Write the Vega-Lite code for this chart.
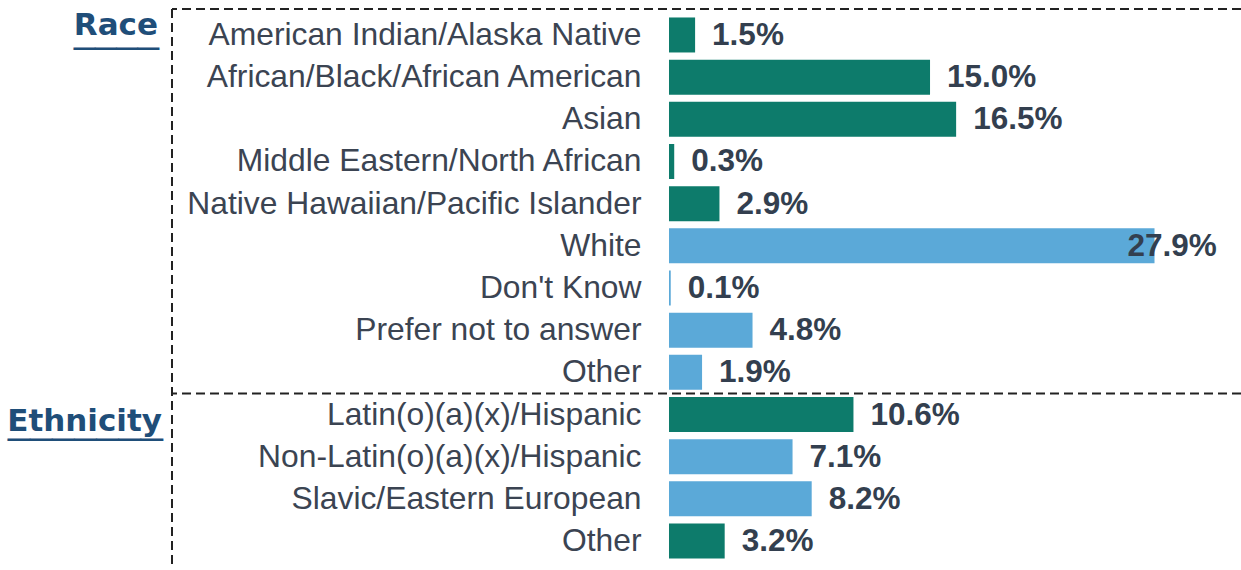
{
  "$schema": "https://vega.github.io/schema/vega-lite/v6.json",
  "autosize": "none",
  "width": 1069,
  "height": 558,
  "padding": {"left": 172, "top": 9, "right": 0, "bottom": 0},
  "background": "white",
  "config": {"view": {"stroke": null}},
  "data": {
    "values": [
      {"group": "Race", "key": "Race|American Indian/Alaska Native", "pct": 1.5, "type": "A"},
      {"group": "Race", "key": "Race|African/Black/African American", "pct": 15.0, "type": "A"},
      {"group": "Race", "key": "Race|Asian", "pct": 16.5, "type": "A"},
      {"group": "Race", "key": "Race|Middle Eastern/North African", "pct": 0.3, "type": "A"},
      {"group": "Race", "key": "Race|Native Hawaiian/Pacific Islander", "pct": 2.9, "type": "A"},
      {"group": "Race", "key": "Race|White", "pct": 27.9, "type": "B"},
      {"group": "Race", "key": "Race|Don't Know", "pct": 0.1, "type": "B"},
      {"group": "Race", "key": "Race|Prefer not to answer", "pct": 4.8, "type": "B"},
      {"group": "Race", "key": "Race|Other", "pct": 1.9, "type": "B"},
      {"group": "Ethnicity", "key": "Ethnicity|Latin(o)(a)(x)/Hispanic", "pct": 10.6, "type": "A"},
      {"group": "Ethnicity", "key": "Ethnicity|Non-Latin(o)(a)(x)/Hispanic", "pct": 7.1, "type": "B"},
      {"group": "Ethnicity", "key": "Ethnicity|Slavic/Eastern European", "pct": 8.2, "type": "B"},
      {"group": "Ethnicity", "key": "Ethnicity|Other", "pct": 3.2, "type": "A"}
    ]
  },
  "transform": [{"calculate": "format(datum.pct, '.1f') + '%'", "as": "label"}],
  "layer": [
    {
      "mark": {"type": "bar", "height": {"band": 0.83}},
      "encoding": {
        "y": {
          "field": "key",
          "type": "nominal",
          "sort": null,
          "scale": {"paddingInner": 0, "paddingOuter": 0.116},
          "axis": {
            "title": null,
            "domain": false,
            "ticks": false,
            "offset": -497,
            "labelPadding": 28,
            "labelExpr": "split(datum.label, '|')[1]",
            "labelFont": "Liberation Sans",
            "labelFontSize": 31.8,
            "labelColor": "#3B4452",
            "labelLimit": 0
          }
        },
        "x": {
          "field": "pct",
          "type": "quantitative",
          "scale": {"domain": [-28.56, 32.87], "nice": false, "zero": false},
          "axis": null
        },
        "color": {
          "field": "type",
          "type": "nominal",
          "scale": {"domain": ["A", "B"], "range": ["#0D7B6B", "#5BA9D8"]},
          "legend": null
        }
      }
    },
    {
      "transform": [{"filter": "datum.pct <= 25"}],
      "mark": {"type": "text", "align": "left", "baseline": "middle", "dx": 17, "dy": 1, "font": "Liberation Sans", "fontWeight": "bold", "fontSize": 31.5, "color": "#333F4F"},
      "encoding": {
        "y": {"field": "key", "type": "nominal", "sort": null},
        "x": {"field": "pct", "type": "quantitative"},
        "text": {"field": "label", "type": "nominal"}
      }
    },
    {
      "transform": [{"filter": "datum.pct > 25"}],
      "mark": {"type": "text", "align": "left", "baseline": "middle", "dx": -27, "dy": 1, "font": "Liberation Sans", "fontWeight": "bold", "fontSize": 31.5, "color": "#333F4F"},
      "encoding": {
        "y": {"field": "key", "type": "nominal", "sort": null},
        "x": {"field": "pct", "type": "quantitative"},
        "text": {"field": "label", "type": "nominal"}
      }
    },
    {
      "transform": [{"filter": "datum.key == 'Race|American Indian/Alaska Native'"}],
      "mark": {"type": "text", "align": "right", "baseline": "alphabetic", "dx": -14, "dy": 0, "font": "DejaVu Sans", "fontWeight": "bold", "fontSize": 31, "color": "#1F4E79"},
      "encoding": {
        "y": {"field": "key", "type": "nominal", "sort": null},
        "x": {"datum": -28.56, "type": "quantitative"},
        "text": {"value": "Race"}
      }
    },
    {
      "transform": [{"filter": "datum.key == 'Race|American Indian/Alaska Native'"}],
      "mark": {"type": "text", "align": "right", "baseline": "alphabetic", "dx": -13, "dy": 7, "font": "Liberation Sans", "fontSize": 38.2, "color": "#1F4E79"},
      "encoding": {
        "y": {"field": "key", "type": "nominal", "sort": null},
        "x": {"datum": -28.56, "type": "quantitative"},
        "text": {"value": "____"}
      }
    },
    {
      "transform": [{"filter": "datum.key == 'Ethnicity|Latin(o)(a)(x)/Hispanic'"}],
      "mark": {"type": "text", "align": "right", "baseline": "alphabetic", "dx": -10, "dy": 16, "font": "DejaVu Sans", "fontWeight": "bold", "fontSize": 31, "color": "#1F4E79"},
      "encoding": {
        "y": {"field": "key", "type": "nominal", "sort": null},
        "x": {"datum": -28.56, "type": "quantitative"},
        "text": {"value": "Ethnicity"}
      }
    },
    {
      "transform": [{"filter": "datum.key == 'Ethnicity|Latin(o)(a)(x)/Hispanic'"}],
      "mark": {"type": "text", "align": "right", "baseline": "alphabetic", "dx": -9, "dy": 18.5, "font": "Liberation Sans", "fontSize": 39.8, "color": "#1F4E79"},
      "encoding": {
        "y": {"field": "key", "type": "nominal", "sort": null},
        "x": {"datum": -28.56, "type": "quantitative"},
        "text": {"value": "_______"}
      }
    },
    {
      "mark": {"type": "rule", "color": "#222222", "strokeWidth": 2, "strokeDash": [9, 5]},
      "encoding": {
        "x": {"datum": -28.56, "type": "quantitative"}
      }
    },
    {
      "transform": [{"filter": "datum.key == 'Race|American Indian/Alaska Native'"}],
      "mark": {"type": "rule", "color": "#222222", "strokeWidth": 2, "strokeDash": [9, 5]},
      "encoding": {
        "y": {"field": "key", "type": "nominal", "sort": null, "bandPosition": -0.116}
      }
    },
    {
      "transform": [{"filter": "datum.key == 'Ethnicity|Latin(o)(a)(x)/Hispanic'"}],
      "mark": {"type": "rule", "color": "#222222", "strokeWidth": 2, "strokeDash": [9, 5]},
      "encoding": {
        "y": {"field": "key", "type": "nominal", "sort": null, "bandPosition": 0}
      }
    }
  ]
}
